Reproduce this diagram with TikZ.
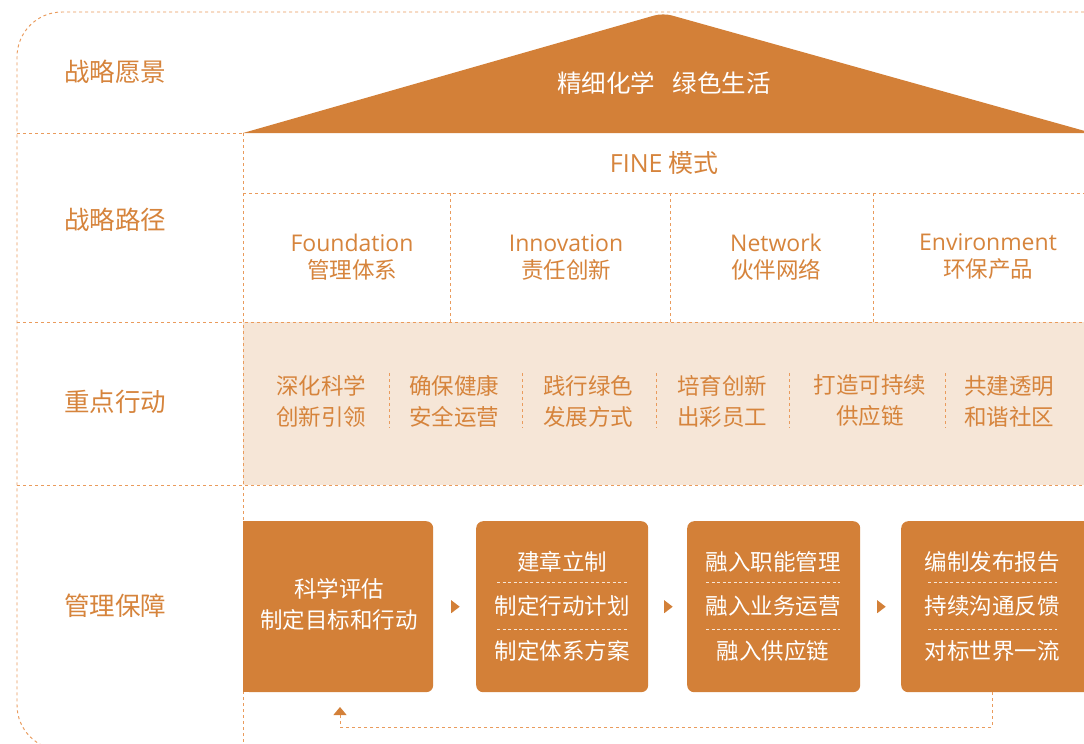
\documentclass[tikz,border=0pt]{standalone}
\usepackage{fontspec}
\setmainfont{Noto Sans CJK SC}
\newfontfamily\latinfont{Open Sans}
\usetikzlibrary{calc,arrows.meta}
\definecolor{org}{RGB}{211,128,56}
\definecolor{txt}{RGB}{214,132,60}
\definecolor{dsh}{RGB}{234,155,92}
\definecolor{beige}{RGB}{246,230,215}
\begin{document}
\begin{tikzpicture}[x=1pt,y=-1pt,
 dl/.style={draw=dsh, line width=0.95pt, dash pattern=on 3pt off 3pt},
 lbl/.style={text=txt, font=\fontsize{25.5}{30}\selectfont, inner sep=0},
 fine/.style={text=txt, font=\fontsize{22.5}{27}\selectfont, align=center, inner sep=0},
 act/.style={text=txt, font=\fontsize{22.5}{31}\selectfont, align=center, inner sep=0},
 boxx/.style={fill=org, rounded corners=7pt, inner sep=0, anchor=north west, minimum height=171pt},
 wt/.style={text=white, font=\fontsize{22.5}{31}\selectfont, inner sep=0, align=center},
 wsep/.style={draw=white!80!org, line width=0.7pt, dash pattern=on 3pt off 2.5pt},
 tri/.style={fill=org},
]
\useasboundingbox (0,0) rectangle (1084,744);
\clip (0,0) rectangle (1084,744);
\fill[white] (0,0) rectangle (1084,744);
% beige band
\fill[beige] (243,322) rectangle (1100,485);
% outer frame
\draw[dl, rounded corners=45pt] (1120,12) -- (17,12) -- (17,750) -- (1120,750);
% horizontal dividers
\draw[dl] (17,133) -- (243,133);
\draw[dl] (243,193) -- (1100,193);
\draw[dl] (17,322) -- (1100,322);
\draw[dl] (17,485) -- (1100,485);
\draw[dl] (243,133) -- (243,760);
% FINE column dividers
\foreach \x in {450,670,873} \draw[dl] (\x,193) -- (\x,322);
% action dividers
\foreach \x in {389,522,656,789,945} \draw[dl] (\x,373) -- (\x,428);
% roof
\fill[org] (243,133) [rounded corners=9pt]-- (663,13) [sharp corners]-- (1092,133) -- cycle;
\node[text=white, font=\fontsize{24.5}{28}\selectfont, inner sep=0] (vision) at (664,83) {精细化学\hspace{0.7em}绿色生活};
% row labels
\node[lbl] (l1) at (115,72) {战略愿景};
\node[lbl] (l2) at (115,220) {战略路径};
\node[lbl] (l3) at (115,402) {重点行动};
\node[lbl] (l4) at (115,606) {管理保障};
% FINE
\node[fine, font=\fontsize{25}{27}\selectfont] (fine) at (664,163) {{\latinfont FINE} 模式};
\node[fine] (f1) at (352,257) {{\latinfont\fontsize{23}{27}\selectfont Foundation}\\管理体系};
\node[fine] (f2) at (566,257) {{\latinfont\fontsize{23}{27}\selectfont Innovation}\\责任创新};
\node[fine] (f3) at (776,257) {{\latinfont\fontsize{23}{27}\selectfont Network}\\伙伴网络};
\node[fine] (f4) at (988,257) {{\latinfont\fontsize{23}{27}\selectfont Environment}\\环保产品};
% actions
\node[act] (a1) at (321,401) {深化科学\\创新引领};
\node[act] (a2) at (454,401) {确保健康\\安全运营};
\node[act] (a3) at (588,401) {践行绿色\\发展方式};
\node[act] (a4) at (722,401) {培育创新\\出彩员工};
\node[act] (a5) at (870,401) {打造可持续\\供应链};
\node[act] (a6) at (1009,401) {共建透明\\和谐社区};
% boxes
\node[boxx, minimum width=190pt] (b1) at (243,521) {};
\fill[org] (243,521) rectangle (258,692);
\node[boxx, minimum width=172pt] (b2) at (476,521) {};
\node[boxx, minimum width=173pt] (b3) at (687,521) {};
\node[boxx, minimum width=215pt] (b4) at (901,521) {};
\node[wt] (t1) at (339,604) {科学评估\\制定目标和行动};
\node[wt] (t21) at (562,562) {建章立制};
\node[wt] (t22) at (562,606) {制定行动计划};
\node[wt] (t23) at (562,651) {制定体系方案};
\node[wt] (t31) at (773,562) {融入职能管理};
\node[wt] (t32) at (773,606) {融入业务运营};
\node[wt] (t33) at (773,651) {融入供应链};
\node[wt] (t41) at (992,562) {编制发布报告};
\node[wt] (t42) at (992,606) {持续沟通反馈};
\node[wt] (t43) at (992,651) {对标世界一流};
% white separators
\draw[wsep] (497,582) -- (627,582);
\draw[wsep] (497,629) -- (627,629);
\draw[wsep] (706,582) -- (840,582);
\draw[wsep] (706,629) -- (840,629);
\draw[wsep] (928,582) -- (1057,582);
\draw[wsep] (928,629) -- (1057,629);
% small arrows between boxes
\path (b1.east) -- (b2.west) coordinate[pos=0.5] (m12);
\path (b2.east) -- (b3.west) coordinate[pos=0.5] (m23);
\path (b3.east) -- (b4.west) coordinate[pos=0.5] (m34);
\foreach \m in {m12,m23,m34}
  \fill[tri] ($(\m)+(-3.5,-6.5)$) -- ++(8.5,6.5) -- ++(-8.5,6.5) -- cycle;
% feedback loop
\coordinate (fb) at (992,692);
\coordinate (b1in) at (340,692);
\draw[dl, -{Triangle[width=13pt,length=8pt,color=org]}, shorten >=15pt] (fb) -- (992,727) -| (b1in);
\end{tikzpicture}
\end{document}
